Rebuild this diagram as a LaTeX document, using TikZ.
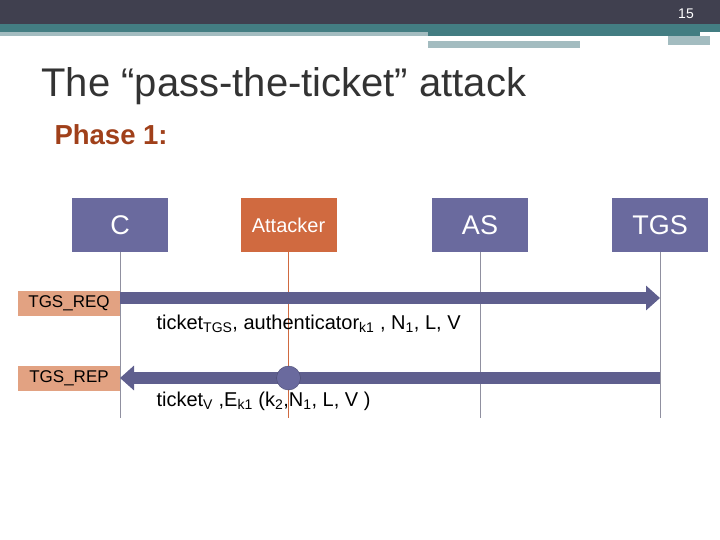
\documentclass[tikz,border=0pt]{standalone}
\usepackage{fontspec}
\setmainfont{Liberation Sans}
\usetikzlibrary{arrows.meta}
\definecolor{barDark}{HTML}{40404F}
\definecolor{barTeal}{HTML}{437D82}
\definecolor{barLight}{HTML}{A3BCC0}
\definecolor{entBlue}{HTML}{6A6A9E}
\definecolor{entOrange}{HTML}{D06A40}
\definecolor{msgTag}{HTML}{E2A282}
\definecolor{phaseCol}{HTML}{A0401A}
\definecolor{lifeGray}{HTML}{9090A0}
\tikzset{
  entity/.style={draw=none,fill=entBlue,text=white,minimum width=96pt,minimum height=54pt,inner sep=0pt,font=\fontsize{27}{30}\selectfont},
  tag/.style={fill=msgTag,minimum width=102pt,minimum height=25pt,inner sep=0pt,font=\fontsize{17}{19}\selectfont},
  msg/.style={draw=entBlue!90!black,line width=12pt,-{Triangle[length=14pt,width=24pt]}},
  life/.style={lifeGray,line width=1pt}
}
\begin{document}
\begin{tikzpicture}[x=1pt,y=-1pt]
\useasboundingbox (0,0) rectangle (720,540);
% top bar
\fill[barDark] (0,0) rectangle (720,24);
\fill[barTeal] (0,24) rectangle (720,32);
\fill[barLight] (0,32) rectangle (428,36);
\fill[barTeal] (428,32) rectangle (700,36);
\fill[barLight] (428,41) rectangle (580,48);
\fill[barLight] (668,36) rectangle (710,45);
\node[text=white,font=\fontsize{14}{16}\selectfont] (pageno) at (686,14) {15};
% title
\node[anchor=west,font=\fontsize{40}{44}\selectfont,text=black!80] (title) at (38,86) {The “pass-the-ticket” attack};
\node[anchor=west,font=\bfseries\fontsize{27.5}{30}\selectfont,text=phaseCol] (phase) at (51,135) {Phase 1:};
% entities
\node[entity] (c) at (120,225) {C};
\node[entity,fill=entOrange,font=\fontsize{20}{22}\selectfont] (att) at (288.5,225) {Attacker};
\node[entity] (as) at (480,225) {AS};
\node[entity] (tgs) at (660,225) {TGS};
\coordinate (cEnd) at (120,418);
\coordinate (attEnd) at (288.5,418);
\coordinate (asEnd) at (480,418);
\coordinate (tgsEnd) at (660,418);
\draw[life] (c) -- (cEnd);
\draw[life,draw=entOrange] (att) -- (attEnd);
\draw[life] (as) -- (asEnd);
\draw[life] (tgs) -- (tgsEnd);
% messages
\node[tag] (req) at (69,303) {TGS\_REQ};
\node[tag] (rep) at (69,378) {TGS\_REP};
\coordinate (reqFrom) at (120,298);
\coordinate (reqTo) at (660,298);
\coordinate (repFrom) at (660,378);
\coordinate (repTo) at (120,378);
\draw[msg] (reqFrom) -- (reqTo);
\draw[msg] (repFrom) -- (repTo);
\node[circle,fill=entBlue,draw=entBlue!70!black,minimum size=24pt,inner sep=0pt] (tap) at (288.5,378) {};
\node[anchor=west,font=\fontsize{20}{22}\selectfont] (reqText) at (153,324) {ticket\textsubscript{TGS}, authenticator\textsubscript{k1} , N\textsubscript{1}, L, V};
\node[anchor=west,font=\fontsize{20}{22}\selectfont] (repText) at (153,401) {ticket\textsubscript{V} ,E\textsubscript{k1} (k\textsubscript{2},N\textsubscript{1}, L, V )};
\end{tikzpicture}
\end{document}
